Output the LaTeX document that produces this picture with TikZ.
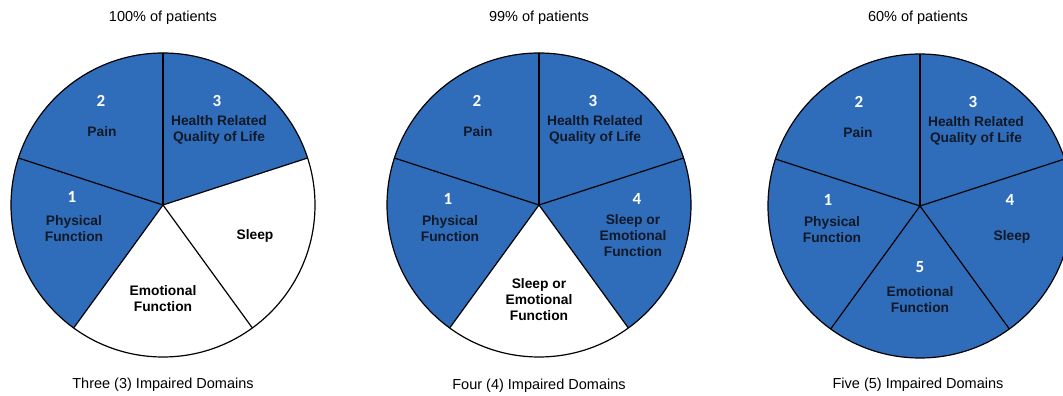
\documentclass[tikz,border=0pt]{standalone}
\usepackage{fontspec}
\setmainfont{Liberation Sans}
\newfontfamily\numfont{Carlito}
\usepackage{xcolor}
\definecolor{sector}{HTML}{2F6DBA}
\definecolor{ink}{HTML}{111827}
\tikzset{
  wedge/.style={fill=sector},
  rim/.style={draw=black, line width=1.2pt},
  num/.style={text=white, font=\numfont\bfseries\fontsize{17}{17}\selectfont},
  lab/.style={text=ink, font=\bfseries\fontsize{13.8}{16}\selectfont, align=center},
  title/.style={text=black, font=\fontsize{14.5}{16}\selectfont},
}

\begin{document}
\begin{tikzpicture}[x=1pt, y=1pt]
  \useasboundingbox (0,0) rectangle (1063,396);
  \clip (0,0) rectangle (1063,396);

  % three (3) impaired domains
  \begin{scope}[shift={(163,191)}]
    \coordinate (c1) at (0,0);
    \fill[wedge] (c1) -- (18:152) arc[start angle=18, end angle=234, radius=152] -- cycle;
    \draw[rim] (c1) circle (152);
    \foreach \a in {18,90,...,306} \draw[rim] (c1) -- (\a:152);
    \node[num] (n1b) at (-62,104) {2};
    \node[lab] (l1b) at (-61,73) {Pain};
    \node[num] (n1c) at (54,104) {3};
    \node[lab] (l1c) at (56,75) {Health Related\\Quality of Life};
    \node[num] (n1a) at (-91,8) {1};
    \node[lab] (l1a) at (-89,-23.5) {Physical\\Function};
    \node[lab, text=black] (l1d) at (92,-31) {Sleep};
    \node[lab, text=black] (l1e) at (0,-93.5) {Emotional\\Function};
  \end{scope}

  % four (4) impaired domains
  \begin{scope}[shift={(539,191)}]
    \coordinate (c2) at (0,0);
    \fill[wedge] (c2) -- (-54:152) arc[start angle=-54, end angle=234, radius=152] -- cycle;
    \draw[rim] (c2) circle (152);
    \foreach \a in {18,90,...,306} \draw[rim] (c2) -- (\a:152);
    \node[num] (n2b) at (-62,104) {2};
    \node[lab] (l2b) at (-61,73) {Pain};
    \node[num] (n2c) at (54,104) {3};
    \node[lab] (l2c) at (56,75) {Health Related\\Quality of Life};
    \node[num] (n2a) at (-91,6) {1};
    \node[lab] (l2a) at (-89,-23.5) {Physical\\Function};
    \node[num] (n2d) at (98,6) {4};
    \node[lab] (l2d) at (94,-30.5) {Sleep or\\Emotional\\Function};
    \node[lab, text=black] (l2e) at (0,-94.5) {Sleep or\\Emotional\\Function};
  \end{scope}

  % five (5) impaired domains
  \begin{scope}[shift={(920,190)}]
    \coordinate (c3) at (0,0);
    \fill[wedge] (c3) circle (152);
    \draw[rim] (c3) circle (152);
    \foreach \a in {18,90,...,306} \draw[rim] (c3) -- (\a:152);
    \node[num] (n3b) at (-61,104) {2};
    \node[lab] (l3b) at (-62,73) {Pain};
    \node[num] (n3c) at (53,104) {3};
    \node[lab] (l3c) at (56,75) {Health Related\\Quality of Life};
    \node[num] (n3a) at (-92,6) {1};
    \node[lab] (l3a) at (-88,-23.5) {Physical\\Function};
    \node[num] (n3d) at (90,6) {4};
    \node[lab] (l3d) at (92,-31) {Sleep};
    \node[num] (n3e) at (0,-61) {5};
    \node[lab] (l3e) at (0,-93.5) {Emotional\\Function};
  \end{scope}

  \node[title] (t1) at (163,378) {100\% of patients};
  \node[title] (t2) at (539,378) {99\% of patients};
  \node[title] (t3) at (918,378) {60\% of patients};
  \node[title] (d1) at (163,11) {Three (3) Impaired Domains};
  \node[title] (d2) at (539,10) {Four (4) Impaired Domains};
  \node[title] (d3) at (918,11) {Five (5) Impaired Domains};
\end{tikzpicture}
\end{document}
